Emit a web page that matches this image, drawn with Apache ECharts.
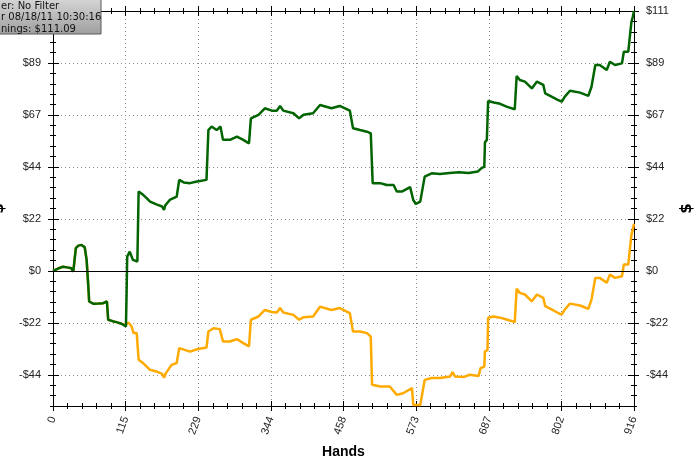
<!DOCTYPE html>
<html><head><meta charset="utf-8">
<script src="https://cdn.jsdelivr.net/npm/echarts@6/dist/echarts.min.js"></script>
<style>html,body{margin:0;padding:0;background:#fff}#c{width:700px;height:459px}</style>
</head><body><div id="c"></div>
<script>
// ---- data ----
const greenHands = [0,8,16,22,29,32,34,36,40,45,50,53,56,57,64,72,79,85,87,94,100,108,115,116,117,121,126,133,135,142,148,153,163,172,175,177,184,195,199,206,216,227,242,245,250,258,264,268,279,290,300,309,312,324,334,345,353,358,363,379,388,395,410,421,439,452,468,473,484,495,501,504,516,526,537,542,550,563,566,568,572,579,586,597,610,625,640,655,670,676,680,681,684,686,695,705,715,728,731,736,744,755,763,773,776,786,795,802,807,815,831,844,849,855,862,873,878,886,897,900,907,910,912,914,916];
const greenValues = [0,1.0,1.8,1.5,1.1,-0.3,0.5,9.7,10.8,11.1,10.1,4.7,-8,-13.1,-14.1,-14.0,-13.8,-13.1,-20.9,-21.5,-21.9,-22.6,-23.8,-10,6.1,8.2,4.7,4.0,33.9,32.5,31.0,29.6,28.4,27.5,26.1,28.0,30.3,31.7,38.9,37.8,37.5,38.2,38.9,60.2,61.7,60.2,61.7,56.0,56.0,57.4,56.0,54.5,65.2,66.7,69.5,68.5,68.5,70.5,68.5,67.4,65.2,66.7,67.4,70.9,69.5,70.5,68.5,61.0,60.2,59.5,58.8,37.5,37.5,36.7,36.7,33.9,33.9,35.8,36.0,30.3,28.6,29.6,40.3,41.7,41.4,41.8,42.2,41.8,42.5,44.0,44.5,55.0,56.0,72.6,72.0,71.4,70.2,69.1,83.3,81.6,80.9,78.0,80.9,79.5,75.9,74.5,73.2,72.3,74.5,77.0,76.2,74.8,78.7,88.0,88.0,85.9,89.4,88.0,88.7,93.7,93.7,101.5,106.5,108.5,111.09];
const orangeHands = [0,8,16,22,29,32,34,36,40,45,50,53,56,57,64,72,79,85,87,94,100,108,114,119,124,127,132,135,142,153,163,172,175,178,187,195,199,216,227,242,245,253,263,268,279,290,300,309,312,324,334,345,353,358,363,379,388,395,410,421,439,452,468,473,484,495,501,503,516,531,542,552,566,568,579,586,597,610,626,630,634,647,657,671,674,680,681,685,686,695,705,715,728,731,736,744,755,763,773,776,786,795,802,807,815,831,844,849,855,862,873,878,886,897,900,907,910,912,914,916];
const orangeValues = [0,1.0,1.8,1.5,1.1,-0.3,0.5,9.7,10.8,11.1,10.1,4.7,-8,-13.1,-14.1,-14.0,-13.8,-13.1,-20.9,-21.5,-21.9,-22.6,-23.1,-22.1,-23.8,-26.6,-26.6,-38.0,-39.4,-42.3,-43.0,-44.0,-45.7,-43.7,-40.2,-39.4,-33.0,-34.5,-33.5,-32.8,-25.9,-24.5,-24.9,-30.2,-30.2,-29.2,-30.9,-32.3,-20.9,-19.5,-16.7,-17.6,-17.8,-15.9,-17.8,-18.8,-20.9,-19.8,-19.5,-15.3,-16.7,-15.9,-18.1,-25.9,-25.9,-26.6,-28.1,-48.7,-49.4,-49.4,-53.0,-52.3,-50.1,-57.3,-57.3,-46.6,-45.8,-45.8,-45.2,-43.3,-45.2,-45.4,-44.4,-44.9,-41.6,-40.9,-34.5,-33.8,-20.0,-19.5,-20.0,-20.8,-21.9,-7.7,-9.4,-10.1,-13.0,-10.1,-11.5,-15.1,-16.5,-17.8,-18.7,-16.5,-14.0,-14.8,-16.2,-12.3,-3.0,-3.0,-5.1,-1.6,-3.0,-2.3,2.7,2.7,10.5,15.5,17.5,20.1];
const xMax = 916, xStep = 114.5;
const yStep = 22.218, yMinorStep = 4.4436, yMin = -13 * 4.4436, yMax = 111.09;
const yMajorTicks = [-44.436, -22.218, 0, 22.218, 44.436, 66.654, 88.872, 111.09];
const xAxisName = 'Hands', yAxisName = '$';
const titleLines = ['er: No Filter', 'r 08/18/11 10:30:16', 'nings: $111.09'];

// ---- chart ----
const chart = echarts.init(document.getElementById('c'), null, {renderer: 'canvas'});
const dotted = {show: true, lineStyle: {color: '#8a8a8a', type: [1, 3], width: 1}};
const yFmt = v => {
  const k = v / yStep;
  if (Math.abs(k - Math.round(k)) > 1e-3) return '';
  const r = Math.round(Math.abs(v));
  return (v < -0.01 ? '-$' : '$') + r;
};
const labelFont = {fontFamily: 'Liberation Sans', fontSize: 11, color: '#222'};
function xAx(pos, inside, withLabel) {
  return {
    type: 'value', position: pos, min: 0, max: xMax, interval: xStep,
    axisLine: {show: !inside, onZero: false, lineStyle: {color: '#000', width: 1}},
    axisTick: {show: true, inside: inside, length: 5, lineStyle: {color: '#000'}},
    minorTick: {show: true, splitNumber: 5, length: 3, lineStyle: {color: '#000'}},
    axisLabel: withLabel ? Object.assign({show: true, rotate: 70, margin: 11, formatter: v => String(Math.round(v))}, labelFont) : {show: false},
    splitLine: withLabel ? dotted : {show: false},
    name: withLabel ? xAxisName : '', nameLocation: 'middle', nameGap: 39,
    nameTextStyle: {fontFamily: 'Liberation Sans', fontSize: 14, fontWeight: 'bold', color: '#000'}
  };
}
function yAx(pos, inside, major, withLabel) {
  const a = {
    type: 'value', position: pos, min: yMin, max: yMax, interval: yMinorStep,
    axisLine: {show: withLabel, onZero: false, lineStyle: {color: '#000', width: 1}},
    axisTick: {show: true, inside: inside, length: major ? (inside ? 6 : 5) : 3, lineStyle: {color: '#000'}},
    axisLabel: {show: false},
    splitLine: {show: false}
  };
  if (major) {
    a.axisTick.customValues = yMajorTicks;
    if (!inside && pos === 'left') { a.splitLine = dotted; }
  }
  if (withLabel) {
    a.axisLabel = Object.assign({show: true, margin: 12, formatter: yFmt}, labelFont);
    a.name = yAxisName; a.nameLocation = 'middle'; a.nameGap = pos === 'left' ? 46 : 46;
    a.nameRotate = 90;
    a.nameTextStyle = {fontFamily: 'DejaVu Sans', fontSize: 15, fontWeight: 'bold', color: '#000'};
  }
  return a;
}
const option = {
  animation: false,
  backgroundColor: '#fff',
  grid: {left: 53, right: 66, top: 11, bottom: 53, containLabel: false, outerBoundsMode: 'none'},
  xAxis: [xAx('bottom', false, true), xAx('bottom', true, false), xAx('top', false, false), xAx('top', true, false)],
  yAxis: [yAx('left', false, false, true), yAx('left', true, false, false), yAx('left', false, true, false), yAx('left', true, true, false),
          yAx('right', false, false, true), yAx('right', true, false, false), yAx('right', false, true, false), yAx('right', true, true, false)],
  series: [
    {type: 'line', xAxisIndex: 0, yAxisIndex: 0, showSymbol: false, symbol: 'none',
     data: orangeHands.map((h, i) => [h, orangeValues[i]]),
     lineStyle: {color: '#ffaa00', width: 2.5}, itemStyle: {color: '#ffaa00'},
     markLine: {silent: true, symbol: ['none', 'none'], label: {show: false},
       lineStyle: {color: '#000', type: 'solid', width: 1}, data: [{yAxis: 0}]}},
    {type: 'line', xAxisIndex: 0, yAxisIndex: 0, showSymbol: false, symbol: 'none',
     data: greenHands.map((h, i) => [h, greenValues[i]]),
     lineStyle: {color: '#006400', width: 2.5}, itemStyle: {color: '#006400'}}
  ],
  graphic: [
    {type: 'rect', z: 100, shape: {x: -10, y: -10, width: 111, height: 44},
     style: {fill: {type: 'linear', x: 0, y: 0, x2: 0, y2: 1, colorStops: [{offset: 0, color: '#e4e4e4'}, {offset: 1, color: '#9e9e9e'}]},
       stroke: '#5a5a5a', lineWidth: 1}},
    {type: 'text', z: 101, x: 1, y: 1, style: {text: titleLines[0], font: '10px "DejaVu Sans"', fill: '#111', verticalAlign: 'top'}},
    {type: 'text', z: 101, x: 1, y: 12.5, style: {text: titleLines[1], font: '10px "DejaVu Sans"', fill: '#111', verticalAlign: 'top'}},
    {type: 'text', z: 101, x: 1, y: 24, style: {text: titleLines[2], font: '10px "DejaVu Sans"', fill: '#111', verticalAlign: 'top'}}
  ]
};
chart.setOption(option);
</script></body></html>
